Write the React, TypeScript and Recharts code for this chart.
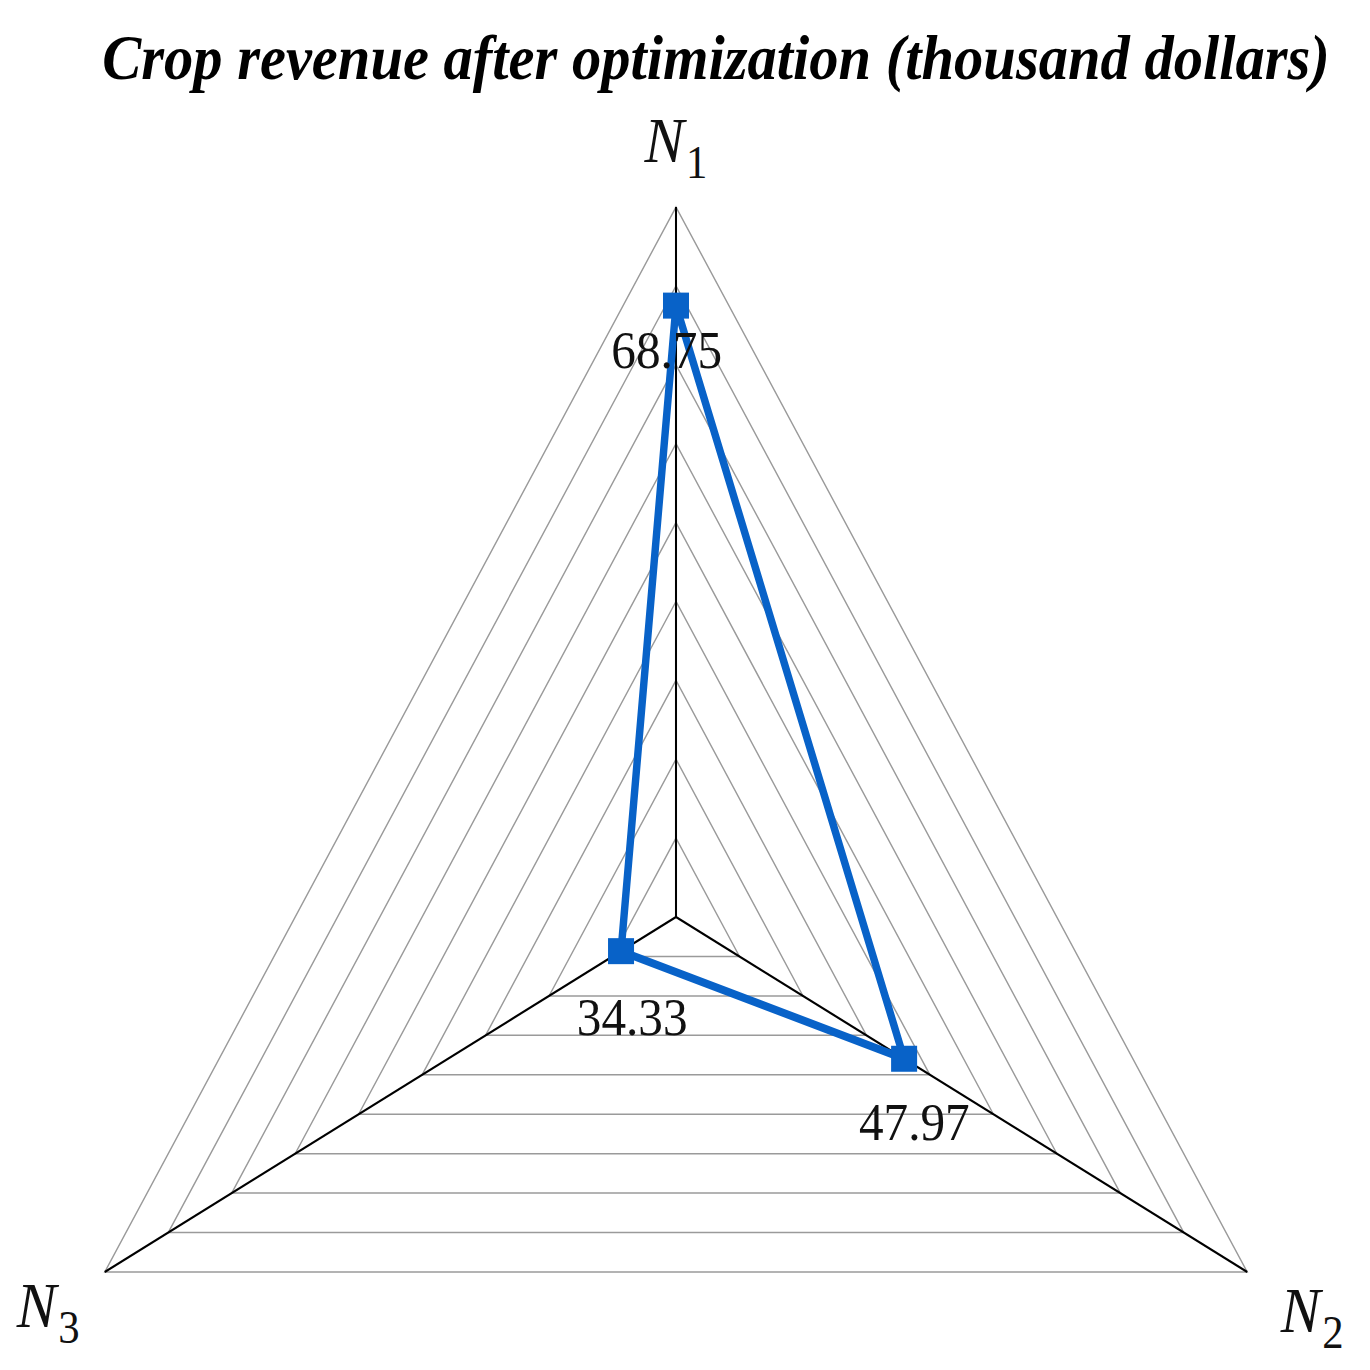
import React from 'react';
import { RadarChart, Radar, PolarGrid, PolarAngleAxis, PolarRadiusAxis } from 'recharts';

// ---- data ----
const categories = ['N1', 'N2', 'N3'];
const revenue = [68.75, 47.97, 34.33];
const radiusDomain = [30, 75];
const radiusTickCount = 10;
const titleText = 'Crop revenue after optimization (thousand dollars)';

const data = categories.map((c, i) => ({ axis: c, value: revenue[i] }));

// ---- styles ----
const K = 0.929; // horizontal compression of the original figure
const LINE_COLOR = '#0862c8';
const FONT = '"Liberation Serif", "Times New Roman", serif';
const TICK_OFFSETS = [
  { dx: 0, dy: -37 },
  { dx: 63, dy: 56 },
  { dx: -54, dy: 51 },
];
const LABEL_OFFSETS = [
  { dx: -10, dy: 62 },
  { dx: 11, dy: 81 },
  { dx: 12, dy: 84 },
];

const AxisTick = (props: any) => {
  const { x, y, payload } = props;
  const label: string = String(payload?.value ?? '');
  const i = categories.indexOf(label);
  const off = TICK_OFFSETS[i] || { dx: 0, dy: 0 };
  return (
    <text x={x + off.dx} y={y + off.dy} textAnchor="middle" fontFamily={FONT} fill="#111">
      <tspan fontStyle="italic" fontSize={64}>{label.slice(0, 1)}</tspan>
      <tspan fontSize={46} dy={16} dx={2}>{label.slice(1)}</tspan>
    </text>
  );
};

const SquareDot = (props: any) => {
  const { cx, cy, index, payload } = props;
  const v = payload?.value ?? props.value;
  const off = LABEL_OFFSETS[index] || { dx: 0, dy: 0 };
  if (cx == null || cy == null) return <g key={`d${index}`} />;
  return (
    <g key={`d${index}`}>
      <text
        x={cx + off.dx}
        y={cy + off.dy}
        textAnchor="middle"
        fontFamily={FONT}
        fontSize={53}
        fill="#111"
      >
        {typeof v === 'number' ? v.toFixed(2) : String(v)}
      </text>
      <rect x={cx - 14} y={cy - 13} width={28} height={26} fill={LINE_COLOR} />
    </g>
  );
};

export default function App() {
  return (
    <div style={{ position: 'relative', width: 1354, height: 1354, overflow: 'hidden', background: '#fff' }}>
      <div
        style={{
          position: 'absolute',
          left: -62,
          top: 0,
          width: 1460,
          height: 1354,
          transform: `scaleX(${K})`,
          transformOrigin: '730px 0px',
        }}
      >
        <div
          style={{
            position: 'absolute',
            left: 0,
            top: 19,
            width: 1546,
            textAlign: 'center',
            fontFamily: FONT,
            fontWeight: 'bold',
            fontStyle: 'italic',
            fontSize: 63,
            lineHeight: '63px',
            color: '#000',
            whiteSpace: 'nowrap',
          }}
        >
          {titleText}
        </div>
        <RadarChart
          width={1460}
          height={1354}
          cx={730}
          cy={909}
          outerRadius={710}
          data={data}
          margin={{ top: 0, right: 0, bottom: 0, left: 0 }}
        >
          <PolarGrid gridType="polygon" radialLines={false} stroke="#9a9a9a" strokeWidth={1.5} />
          <PolarGrid gridType="polygon" polarRadius={[0]} stroke="#000" strokeWidth={2.2} />
          <PolarRadiusAxis
            angle={90}
            type="number"
            domain={radiusDomain}
            tickCount={radiusTickCount}
            tick={false}
            axisLine={false}
          />
          <PolarAngleAxis dataKey="axis" tick={AxisTick} axisLine={false} tickLine={false} />
          <Radar
            dataKey="value"
            stroke={LINE_COLOR}
            strokeWidth={8}
            fill="none"
            fillOpacity={0}
            dot={SquareDot}
            isAnimationActive={false}
          />
        </RadarChart>
      </div>
    </div>
  );
}
